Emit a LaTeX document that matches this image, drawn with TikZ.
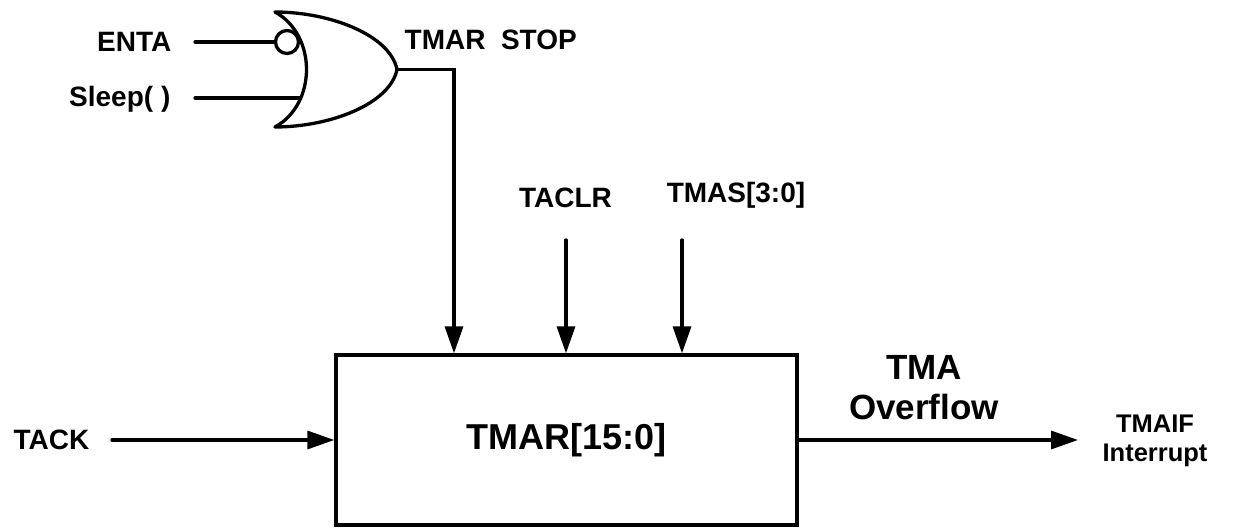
\documentclass[tikz,border=0pt]{standalone}
\usepackage{fontspec}
\setmainfont{Liberation Sans}
\usetikzlibrary{arrows.meta}

\begin{document}
\begin{tikzpicture}[x=0.5pt, y=0.5pt, line width=1.65pt, line cap=round,
    arr/.style={-{Triangle[length=13.5pt, width=9pt]}},
    lbl/.style={font=\fontsize{14}{16}\selectfont\bfseries, inner sep=0pt}]
    \useasboundingbox (0,0) rectangle (1233,530);
    % NOR-style gate with inverted ENTA input
    \coordinate (gtl) at (275,518);
    \coordinate (gbl) at (275,403);
    \coordinate (gout) at (397,460.5);
    \draw[line join=round] (gtl) .. controls (317,495) and (317,426) .. (gbl)
        .. controls (330,403) and (390,426) .. (gout)
        .. controls (390,495) and (330,518) .. cycle;
    \node[circle, draw, minimum size=11.5pt, inner sep=0pt] (inv) at (287,488) {};
    \node[lbl, anchor=base east] (enta) at (173,478) {ENTA};
    \node[lbl, anchor=base east] (sleep) at (172,423) {Sleep( )};
    \coordinate (enta in) at (195,488);
    \coordinate (sleep in) at (195,432);
    \coordinate (sleep g) at (300,432);
    \draw (enta in) -- (inv.west);
    \draw (sleep in) -- (sleep g);
    \node[lbl, anchor=base west] (stop) at (403,480) {TMAR~~STOP};
    % counter block
    \node[draw, minimum width=230.5pt, minimum height=85pt,
        font=\fontsize{18}{20}\selectfont\bfseries] (tmar) at (566.5,90) {TMAR[15:0]};
    \coordinate (bend) at (454,460.5);
    \draw[arr] (gout) -- (bend) -- (bend |- tmar.north);
    \node[lbl, anchor=base] (taclr) at (565.5,322.5) {TACLR};
    \node[lbl, anchor=base] (tmas) at (736,327) {TMAS[3:0]};
    \coordinate (taclr in) at (566,290);
    \coordinate (tmas in) at (682,290);
    \draw[arr] (taclr in) -- (taclr in |- tmar.north);
    \draw[arr] (tmas in) -- (tmas in |- tmar.north);
    \node[lbl, anchor=base west] (tack) at (12,80) {TACK};
    \coordinate (tack in) at (112,90);
    \draw[arr] (tack in) -- (tmar.west);
    \coordinate (irq) at (1078,90);
    \draw[arr] (tmar.east) -- (irq);
    \node[align=center, inner sep=0pt, font=\fontsize{17.5}{20}\selectfont\bfseries] (ovf) at (924,142.5) {TMA\\Overflow};
    \node[align=center, inner sep=0pt, font=\fontsize{12.75}{14.5}\selectfont\bfseries] (tmaif) at (1155,89) {TMAIF\\Interrupt};
\end{tikzpicture}
\end{document}
